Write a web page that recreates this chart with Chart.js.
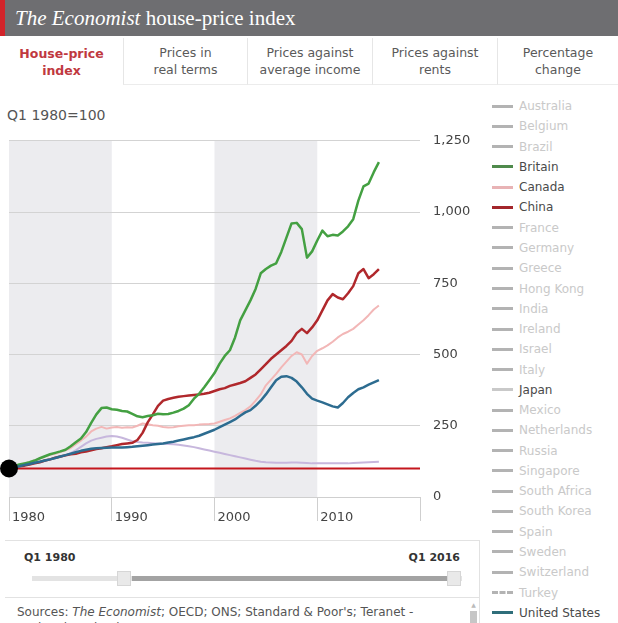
<!DOCTYPE html>
<html lang="en">
<head>
    <meta charset="UTF-8">
    <title>The Economist house-price index</title>
    <script src="https://cdn.jsdelivr.net/npm/chart.js"></script>
    <style>
        body {
            margin: 0;
            width: 618px;
            height: 623px;
            overflow: hidden;
            position: relative;
            background: white;
            font-family: 'DejaVu Sans', Verdana, sans-serif;
            color: #555;
        }
        .header {
            position: absolute; left: 0; top: 0; width: 618px; height: 36px;
            background: #6e6e71; overflow: hidden;
        }
        .header .accent {
            position: absolute; left: 0; top: 0; width: 5px; height: 36px;
            background: #d2232a;
        }
        .header .title {
            position: absolute; left: 15px; top: 6px;
            font-family: 'Liberation Serif', 'Times New Roman', serif;
            font-size: 21px; color: white; white-space: nowrap;
        }
        .tabs {
            position: absolute; left: 0; top: 36px; width: 618px; height: 49px;
        }
        .tab {
            position: absolute; top: 2px; height: 47px;
            display: flex; align-items: center; justify-content: center;
            text-align: center; font-size: 12.5px; line-height: 17px; color: #5a5a5a;
            border-left: 1px solid #e6e6e6; border-bottom: 1px solid #ececec;
            box-sizing: border-box;
        }
        .tab.active {
            color: #c0393f; font-weight: bold; border-left: none; border-bottom: none;
        }
        .unit {
            position: absolute; left: 7px; top: 107px; font-size: 14px; color: #555;
        }
        #chartBox {
            position: absolute; left: 0; top: 120px; width: 485px; height: 410px; overflow: hidden;
        }
        .legend {
            position: absolute; left: 492px; top: 96px;
        }
        .legend-item {
            height: 20.28px; display: flex; align-items: center;
            font-size: 12px; color: #c9c9c9; white-space: nowrap;
        }
        .legend-item.on { color: #4a4a4a; }
        .legend-swatch {
            width: 21px; height: 0; border-top: 3px solid #b3b3b3; margin-right: 6px;
        }
        .slider-box {
            position: absolute; left: 5px; top: 540px; width: 475px; height: 58px;
            border-top: 1px solid #e2e2e2; border-bottom: 1px solid #e2e2e2;
            border-right: 1px solid #e2e2e2; box-sizing: border-box;
        }
        .slider-label {
            position: absolute; top: 10px; font-size: 11px; font-weight: bold; color: #333;
        }
        .track {
            position: absolute; left: 27px; top: 35px; width: 430px; height: 5px; background: #e3e3e3;
        }
        .track-fill {
            position: absolute; left: 127px; top: 35px; width: 316px; height: 5px; background: #a3a3a3;
        }
        .handle {
            position: absolute; top: 30px; width: 14px; height: 15px;
            background: #e9e9e9; border: 1px solid #d6d6d6; box-sizing: border-box;
        }
        .sources {
            position: absolute; left: 17px; top: 604px; width: 450px;
            font-size: 12px; line-height: 16px; color: #555; white-space: nowrap;
        }
        .divider {
            position: absolute; left: 479px; top: 597px; width: 1px; height: 26px; background: #e2e2e2;
        }
        .scrollbar {
            position: absolute; left: 470px; top: 601px; width: 7px; height: 22px;
        }
        .scrollbar .arrow { height: 7px; color: #bbb; font-size: 6px; text-align: center; line-height: 7px; }
        .scrollbar .thumb { margin-top: 3px; height: 12px; background: #c6c6c6; }
    </style>
</head>
<body>
    <div class="header">
        <div class="accent"></div>
        <div class="title"><i>The Economist</i> house-price index</div>
    </div>
    <div class="tabs">
        <div class="tab active" style="left:0;width:123px;">House-price<br>index</div>
        <div class="tab" style="left:123px;width:124px;">Prices in<br>real terms</div>
        <div class="tab" style="left:247px;width:125px;">Prices against<br>average income</div>
        <div class="tab" style="left:372px;width:125px;">Prices against<br>rents</div>
        <div class="tab" style="left:497px;width:121px;">Percentage<br>change</div>
    </div>

    <div class="unit">Q1 1980=100</div>
    <div id="chartBox"><canvas id="hpChart" width="485" height="410"></canvas></div>

    <div class="legend" id="legend"></div>

    <div class="slider-box">
        <div class="slider-label" style="left:19px;">Q1 1980</div>
        <div class="slider-label" style="right:19px;">Q1 2016</div>
        <div class="track"></div>
        <div class="track-fill"></div>
        <div class="handle" style="left:112px;"></div>
        <div class="handle" style="left:442px;"></div>
    </div>
    <div class="sources">Sources: <i>The Economist</i>; OECD; ONS; Standard &amp; Poor's; Teranet -<br>National Bank; Thomson Reuters</div>
    <div class="scrollbar"><div class="arrow">&#9650;</div><div class="thumb"></div></div>
    <div class="divider"></div>

    <script>
        // half-yearly readings, Q1 1980 = 100
        const years = [
            1980, 1980.5, 1981, 1981.5, 1982, 1982.5, 1983, 1983.5, 1984, 1984.5,
            1985, 1985.5, 1986, 1986.5, 1987, 1987.5, 1988, 1988.5, 1989, 1989.5,
            1990, 1990.5, 1991, 1991.5, 1992, 1992.5, 1993, 1993.5, 1994, 1994.5,
            1995, 1995.5, 1996, 1996.5, 1997, 1997.5, 1998, 1998.5, 1999, 1999.5,
            2000, 2000.5, 2001, 2001.5, 2002, 2002.5, 2003, 2003.5, 2004, 2004.5,
            2005, 2005.5, 2006, 2006.5, 2007, 2007.5, 2008, 2008.5, 2009, 2009.5,
            2010, 2010.5, 2011, 2011.5, 2012, 2012.5, 2013, 2013.5, 2014, 2014.5,
            2015, 2015.5, 2016
        ];
        const britain = [
            100, 108, 114, 118, 122, 128, 136, 143, 150, 155,
            160, 166, 178, 192, 205, 228, 260, 290, 312, 314,
            308, 306, 302, 300, 292, 283, 280, 284, 287, 292,
            290, 291, 296, 302, 310, 322, 345, 362, 385, 410,
            435, 468, 495, 515, 560, 620, 655, 690, 730, 785,
            800, 812, 820, 860, 910, 960, 962, 940, 840, 862,
            900, 935, 915, 920, 918, 932, 950, 975, 1040, 1090,
            1100, 1140, 1175
        ];
        const china = [
            100, 104, 108, 110, 114, 118, 122, 128, 132, 138,
            142, 146, 150, 152, 157, 160, 164, 168, 171, 175,
            178, 182, 186, 188, 190, 200, 225, 262, 290, 320,
            338, 344, 348, 352, 354, 356, 358, 360, 362, 366,
            372, 378, 382, 390, 395, 400, 406, 418, 430, 448,
            466, 485, 500, 515, 530, 548, 575, 590, 575, 595,
            620, 655, 690, 712, 700, 694, 715, 740, 785, 800,
            768, 782, 800
        ];
        const canada = [
            100, 106, 112, 118, 122, 128, 135, 142, 148, 152,
            158, 164, 172, 185, 198, 212, 230, 240, 246, 240,
            244, 246, 243, 245, 244, 250, 258, 255, 252, 250,
            246, 244, 245, 248, 250, 252, 252, 254, 255, 256,
            258, 264, 270, 276, 285, 295, 305, 318, 338, 360,
            392, 412, 432, 455, 475, 495, 508, 500, 468, 495,
            513, 522, 532, 545, 560, 572, 580, 590, 605, 620,
            638, 658, 672
        ];
        const japan = [
            100, 104, 108, 112, 116, 120, 124, 128, 132, 136,
            140, 146, 154, 164, 176, 188, 198, 204, 208, 212,
            214, 212, 208, 202, 196, 193, 191, 190, 189, 188,
            187, 186, 185, 183, 181, 178, 175, 171, 167, 163,
            159, 155, 151, 147, 143, 139, 135, 131, 127, 124,
            122, 121, 120, 120, 120, 121, 121, 120, 119, 118,
            118, 118, 118, 118, 118, 118, 118, 119, 120, 121,
            122, 123, 124
        ];
        const unitedStates = [
            100, 104, 108, 112, 116, 120, 124, 128, 132, 137,
            142, 147, 152, 157, 162, 166, 169, 171, 172, 173,
            174, 174, 174, 175, 176, 178, 180, 182, 184, 186,
            188, 191, 194, 198, 202, 206, 210, 215, 222, 229,
            236, 245, 254, 263, 272, 285, 297, 305, 320, 338,
            360, 385, 410, 422, 424, 418, 405, 385, 362, 345,
            338, 332, 325, 318, 314, 330, 350, 365, 378, 385,
            394, 402, 410
        ];

        const baseIndex = 100;
        const axisYears = [1980, 2020];
        const yearLabels = [1980, 1990, 2000, 2010];
        const shadedDecades = [[1980, 1990], [2000, 2010]];
        const yTicks = [0, 250, 500, 750, 1000, 1250];

        const countries = ['Australia', 'Belgium', 'Brazil', 'Britain', 'Canada', 'China', 'France',
            'Germany', 'Greece', 'Hong Kong', 'India', 'Ireland', 'Israel', 'Italy', 'Japan', 'Mexico',
            'Netherlands', 'Russia', 'Singapore', 'South Africa', 'South Korea', 'Spain', 'Sweden',
            'Switzerland', 'Turkey', 'United States'];

        const lineColors = {
            'Britain': '#44a042',
            'Canada': '#f2b7b7',
            'China': '#b0282c',
            'Japan': '#c7b7dd',
            'United States': '#2d6c90'
        };
        const swatchColors = {
            'Britain': '#4f8a4c',
            'Canada': '#e8b3b5',
            'China': '#a3262b',
            'Japan': '#c9c9c9',
            'United States': '#2f6e7a'
        };

        // legend
        const legend = document.getElementById('legend');
        countries.forEach(name => {
            const item = document.createElement('div');
            item.className = 'legend-item' + (swatchColors[name] ? ' on' : '');
            const sw = document.createElement('div');
            sw.className = 'legend-swatch';
            if (swatchColors[name]) sw.style.borderTopColor = swatchColors[name];
            if (name === 'Turkey') sw.style.borderTopStyle = 'dashed';
            item.appendChild(sw);
            const label = document.createElement('span');
            label.textContent = name;
            item.appendChild(label);
            legend.appendChild(item);
        });

        function series(values) {
            return values.map((v, i) => ({ x: years[i], y: v }));
        }

        const decadeBands = {
            id: 'decadeBands',
            beforeDraw(chart) {
                const { ctx, chartArea, scales } = chart;
                ctx.save();
                ctx.fillStyle = '#ececef';
                shadedDecades.forEach(([a, b]) => {
                    const x1 = scales.x.getPixelForValue(a);
                    const x2 = scales.x.getPixelForValue(b);
                    ctx.fillRect(x1, chartArea.top, x2 - x1, chartArea.bottom - chartArea.top);
                });
                ctx.restore();
            }
        };

        const lineDefaults = { pointRadius: 0, tension: 0, fill: false, borderJoinStyle: 'round' };

        new Chart(document.getElementById('hpChart'), {
            type: 'line',
            data: {
                datasets: [
                    { label: 'start', data: [{ x: years[0], y: baseIndex }], showLine: false,
                      borderColor: '#000', backgroundColor: '#000',
                      pointRadius: 9, pointBackgroundColor: '#000', pointBorderWidth: 0, clip: false },
                    { label: 'United States', data: series(unitedStates), borderColor: lineColors['United States'], borderWidth: 2.5, ...lineDefaults },
                    { label: 'Britain', data: series(britain), borderColor: lineColors['Britain'], borderWidth: 2.5, ...lineDefaults },
                    { label: 'China', data: series(china), borderColor: lineColors['China'], borderWidth: 2.5, ...lineDefaults },
                    { label: 'Canada', data: series(canada), borderColor: lineColors['Canada'], borderWidth: 2, ...lineDefaults },
                    { label: 'Japan', data: series(japan), borderColor: lineColors['Japan'], borderWidth: 2, ...lineDefaults },
                    { label: 'base', data: axisYears.map(x => ({ x: x, y: baseIndex })), borderColor: '#c4161d', borderWidth: 2, ...lineDefaults }
                ]
            },
            options: {
                responsive: false,
                animation: false,
                layout: { padding: { left: 7, top: 19, right: 0, bottom: 0 } },
                plugins: { legend: { display: false }, tooltip: { enabled: false } },
                scales: {
                    x: {
                        type: 'linear',
                        min: axisYears[0],
                        max: axisYears[1],
                        afterFit(scale) { scale.height = 33; },
                        afterBuildTicks(scale) {
                            scale.ticks = [1980, 1990, 2000, 2010, 2020].map(v => ({ value: v }));
                        },
                        grid: { drawOnChartArea: false, drawTicks: true, tickLength: 24, color: '#cfcfcf' },
                        border: { display: true, color: '#cfcfcf' },
                        ticks: {
                            align: 'start',
                            labelOffset: 3,
                            padding: -11,
                            maxRotation: 0,
                            autoSkip: false,
                            color: '#444',
                            font: { family: "'DejaVu Sans', Verdana, sans-serif", size: 13 },
                            callback: v => yearLabels.includes(v) ? String(v) : ''
                        }
                    },
                    y: {
                        position: 'right',
                        min: yTicks[0],
                        max: yTicks[yTicks.length - 1],
                        afterFit(scale) { scale.width = 65; },
                        afterBuildTicks(scale) { scale.ticks = yTicks.map(v => ({ value: v })); },
                        grid: { color: '#d3d3d3', drawTicks: false },
                        border: { display: false },
                        ticks: {
                            padding: 13,
                            color: '#444',
                            font: { family: "'DejaVu Sans', Verdana, sans-serif", size: 13 },
                            callback: v => v.toLocaleString('en-US')
                        }
                    }
                }
            },
            plugins: [decadeBands]
        });
    </script>
</body>
</html>
